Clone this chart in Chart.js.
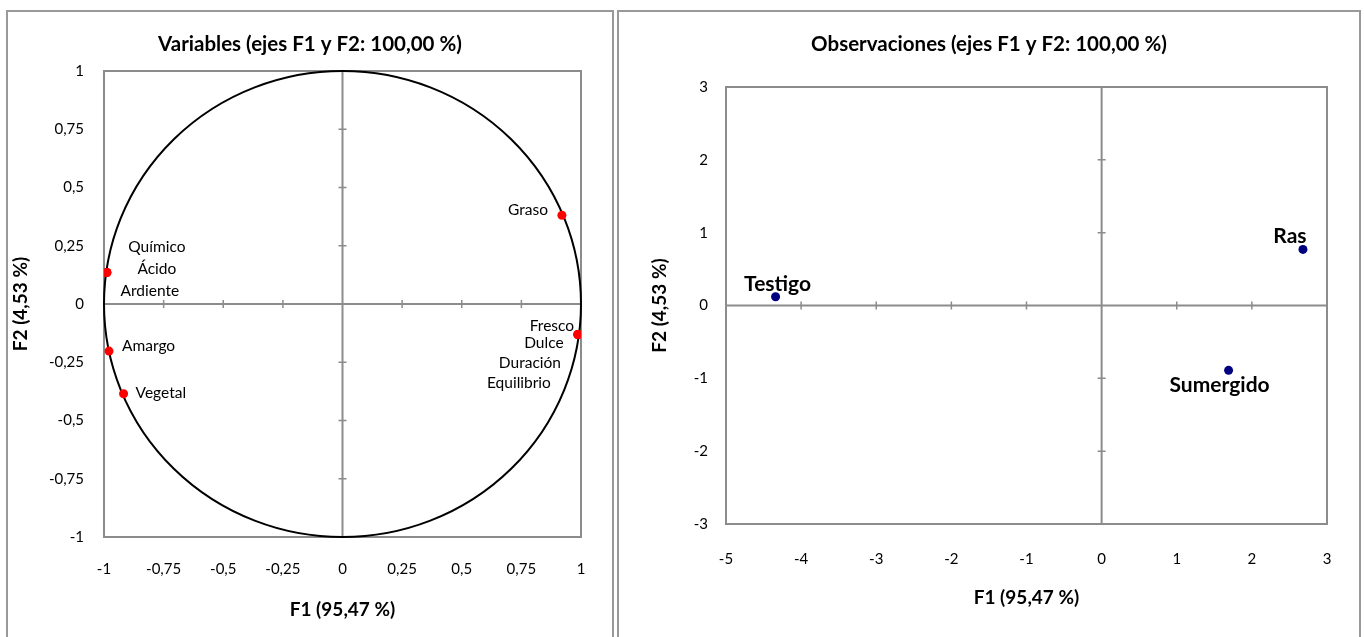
<!DOCTYPE html>
<html>
<head>
<meta charset="utf-8">
<script src="https://cdn.jsdelivr.net/npm/chart.js@4/dist/chart.umd.min.js"></script>
<style>
  html, body { margin: 0; padding: 0; background: #fff; }
  .panel { position: absolute; top: 10px; height: 632px; border: 2px solid #999; box-sizing: border-box; background: #fff; }
  #leftBox  { left: 6px;   width: 608px; }
  #rightBox { left: 617px; width: 744px; }
  .panel canvas { display: block; }
</style>
</head>
<body>
<div class="panel" id="leftBox"><canvas id="varChart"></canvas></div>
<div class="panel" id="rightBox"><canvas id="obsChart"></canvas></div>
<script>
/* ── data ── */
const varNames = ['Graso', 'Químico', 'Ácido', 'Ardiente', 'Amargo', 'Vegetal',
                  'Fresco', 'Dulce', 'Duración', 'Equilibrio'];
const varF1 = [0.920, -0.988, -0.988, -0.988, -0.979, -0.918, 0.987, 0.987, 0.987, 0.987];
const varF2 = [0.381, 0.135, 0.135, 0.135, -0.202, -0.385, -0.131, -0.131, -0.131, -0.131];

const obsNames = ['Testigo', 'Ras', 'Sumergido'];
const obsF1 = [-4.34, 2.68, 1.69];
const obsF2 = [0.12, 0.77, -0.89];

const varTicks = { min: -1, max: 1, step: 0.25 };
const obsTicksX = { min: -5, max: 3, step: 1 };
const obsTicksY = { min: -3, max: 3, step: 1 };

/* label placement (pixel offsets from the point, like XLSTAT places them) */
const varLabelPos = {
  'Graso':      { dx: -14, dy: -5,  align: 'right' },
  'Químico':    { dx: 50,  dy: -26, align: 'center' },
  'Ácido':      { dx: 50,  dy: -4,  align: 'center' },
  'Ardiente':   { dx: 43,  dy: 18,  align: 'center' },
  'Amargo':     { dx: 13,  dy: -5,  align: 'left' },
  'Vegetal':    { dx: 12,  dy: -1,  align: 'left' },
  'Fresco':     { dx: -26, dy: -9,  align: 'center' },
  'Dulce':      { dx: -34, dy: 8,   align: 'center' },
  'Duración':   { dx: -48, dy: 28,  align: 'center' },
  'Equilibrio': { dx: -59, dy: 48,  align: 'center' },
};
const obsLabelPos = {
  'Testigo':   { dx: 2,   dy: -13, align: 'center' },
  'Ras':       { dx: -13, dy: -13, align: 'center' },
  'Sumergido': { dx: -9,  dy: 15,  align: 'center' },
};

Chart.defaults.font.family = 'Lato, "Open Sans", sans-serif';
Chart.defaults.color = '#000';
Chart.defaults.plugins.legend.display = false;
Chart.defaults.plugins.tooltip.enabled = false;

const AXIS_GREY = '#8c8c8c';
const fmt = v => String(v).replace('.', ',');

function toPoints(xs, ys) {
  return xs.map((x, i) => ({ x, y: ys[i] }));
}

/* plot frame, centre axes with small tick marks, optional correlation circle */
const framePlugin = {
  id: 'frame',
  beforeDatasetsDraw(chart, args, opts) {
    const { ctx, chartArea: a } = chart;
    const sx = chart.scales.x, sy = chart.scales.y;
    const x0 = sx.getPixelForValue(0), y0 = sy.getPixelForValue(0);
    ctx.save();
    ctx.strokeStyle = AXIS_GREY;
    ctx.lineWidth = 2;
    ctx.strokeRect(a.left, a.top, a.right - a.left, a.bottom - a.top);
    ctx.beginPath();
    ctx.moveTo(a.left, y0); ctx.lineTo(a.right, y0);
    ctx.moveTo(x0, a.top);  ctx.lineTo(x0, a.bottom);
    ctx.stroke();
    ctx.lineWidth = 1.5;
    ctx.beginPath();
    sx.ticks.forEach(t => {
      if (t.value === sx.min || t.value === sx.max || t.value === 0) return;
      const p = sx.getPixelForValue(t.value);
      ctx.moveTo(p, y0 - 4); ctx.lineTo(p, y0 + 4);
    });
    sy.ticks.forEach(t => {
      if (t.value === sy.min || t.value === sy.max || t.value === 0) return;
      const p = sy.getPixelForValue(t.value);
      ctx.moveTo(x0 - 4, p); ctx.lineTo(x0 + 4, p);
    });
    ctx.stroke();
    if (opts.circle) {
      const rx = sx.getPixelForValue(1) - x0;
      const ry = y0 - sy.getPixelForValue(1);
      ctx.strokeStyle = '#000';
      ctx.lineWidth = 2;
      ctx.beginPath();
      ctx.ellipse(x0, y0, rx, ry, 0, 0, Math.PI * 2);
      ctx.stroke();
    }
    ctx.restore();
  },
  afterDatasetsDraw(chart, args, opts) {
    const { ctx } = chart;
    const meta = chart.getDatasetMeta(0);
    ctx.save();
    ctx.font = opts.font;
    ctx.fillStyle = '#000';
    ctx.textBaseline = 'middle';
    meta.data.forEach((el, i) => {
      const name = opts.names[i];
      const pos = opts.pos[name];
      ctx.textAlign = pos.align;
      ctx.fillText(name, el.x + pos.dx, el.y + pos.dy);
    });
    ctx.restore();
  }
};

function axis(range, fixed, tickPad, title, titlePad, isX) {
  return {
    type: 'linear',
    min: range.min, max: range.max,
    grid: { display: false, drawTicks: false },
    border: { display: false },
    ticks: { stepSize: range.step, padding: tickPad, font: { size: 15 }, color: '#000', callback: fmt },
    title: { display: true, text: title, font: { size: 19, weight: 'bold' }, padding: { top: titlePad, bottom: titlePad } },
    afterFit: s => { if (isX) s.height = fixed; else s.width = fixed; },
  };
}

/* empty right-hand axis, only keeps the blank margin right of the plot */
function spacer(width) {
  return {
    type: 'linear',
    position: 'right',
    grid: { display: false, drawTicks: false },
    border: { display: false },
    ticks: { display: false },
    afterFit: s => { s.width = width; },
  };
}

/* ── 1. Variables (correlation circle) ── */
new Chart(document.getElementById('varChart'), {
  type: 'scatter',
  data: {
    datasets: [{
      data: toPoints(varF1, varF2),
      pointRadius: 4.5,
      pointBackgroundColor: '#ff0000',
      pointBorderWidth: 0,
    }]
  },
  options: {
    responsive: true,
    maintainAspectRatio: false,
    animation: false,
    layout: { padding: 0 },
    plugins: {
      title: {
        display: true,
        text: 'Variables (ejes F1 y F2: 100,00 %)',
        font: { size: 20.5, weight: 'bold' },
        padding: { top: 20, bottom: 14.4 },
      },
      frame: { circle: true, names: varNames, pos: varLabelPos, font: '15.5px Lato, "Open Sans", sans-serif' },
    },
    scales: {
      x: axis(varTicks, 103, 23, 'F1 (95,47 %)', 18.6, true),
      y: axis(varTicks, 96, 20, 'F2 (4,53 %)', 1, false),
      pad: spacer(31),
    }
  },
  plugins: [framePlugin]
});

/* ── 2. Observaciones ── */
new Chart(document.getElementById('obsChart'), {
  type: 'scatter',
  data: {
    datasets: [{
      data: toPoints(obsF1, obsF2),
      pointRadius: 4.5,
      pointBackgroundColor: '#000080',
      pointBorderWidth: 0,
    }]
  },
  options: {
    responsive: true,
    maintainAspectRatio: false,
    animation: false,
    layout: { padding: 0 },
    plugins: {
      title: {
        display: true,
        text: 'Observaciones (ejes F1 y F2: 100,00 %)',
        font: { size: 20.5, weight: 'bold' },
        padding: { top: 20, bottom: 30.4 },
      },
      frame: { circle: false, names: obsNames, pos: obsLabelPos, font: 'bold 21px Lato, "Open Sans", sans-serif' },
    },
    scales: {
      x: axis(obsTicksX, 116, 26, 'F1 (95,47 %)', 30.6, true),
      y: axis(obsTicksY, 107, 18, 'F2 (4,53 %)', 29.6, false),
      pad: spacer(32),
    }
  },
  plugins: [framePlugin]
});
</script>
</body>
</html>
